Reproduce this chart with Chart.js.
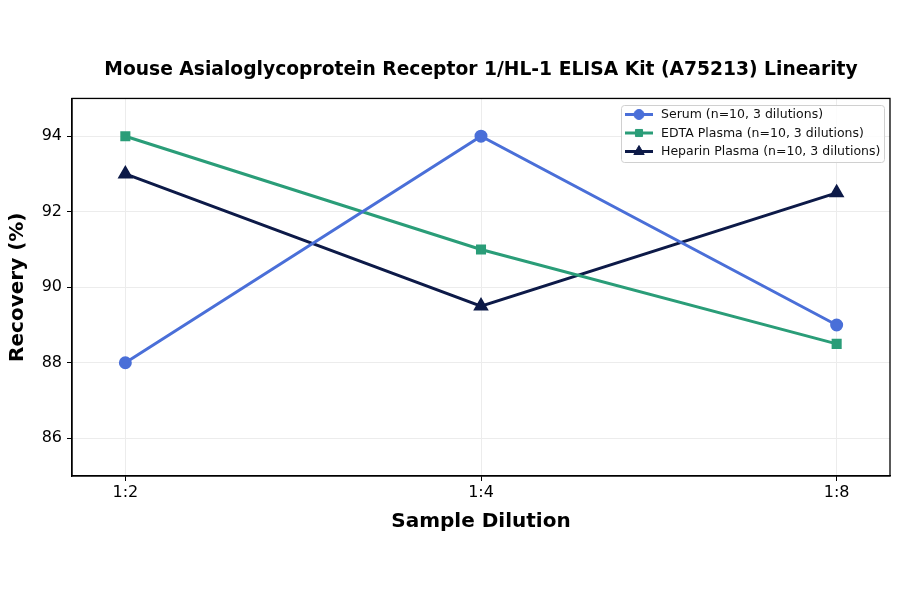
<!DOCTYPE html>
<html>
<head>
<meta charset="utf-8">
<script src="https://cdn.jsdelivr.net/npm/chart.js@4.4.1/dist/chart.umd.min.js"></script>
<style>
  html, body { margin: 0; padding: 0; background: #fff; }
  #wrap { width: 900px; height: 594px; }
</style>
</head>
<body>
<div id="wrap"><canvas id="chart" width="900" height="594"></canvas></div>
<script>
const dilutions = ["1:2", "1:4", "1:8"];
const yTicks = [86, 88, 90, 92, 94];
const serum = [88, 94, 89];
const edta = [94, 91, 88.5];
const heparin = [93, 89.5, 92.5];

const toPoints = (vals) => vals.map((v, i) => ({ x: i, y: v }));

// frame on top/right + legend box inside plot area
const framePlugin = {
    id: "frame",
    afterDatasetsDraw(chart) {
        const { ctx, chartArea: a } = chart;
        ctx.save();
        ctx.strokeStyle = "#000";
        ctx.lineWidth = 1.3;
        ctx.strokeRect(a.left, a.top, a.right - a.left, a.bottom - a.top);

        // legend
        const x0 = 621, y0 = 105, w = 263, h = 57;
        ctx.fillStyle = "rgba(255,255,255,0.85)";
        ctx.strokeStyle = "#d0d0d0";
        ctx.lineWidth = 1;
        ctx.beginPath();
        ctx.roundRect(x0 + 0.5, y0 + 0.5, w, h, 3);
        ctx.fill();
        ctx.stroke();
        ctx.font = "12.5px 'DejaVu Sans'";
        ctx.textBaseline = "middle";
        chart.data.datasets.forEach((ds, i) => {
            const y = 114.5 + i * 18.5;
            ctx.strokeStyle = ds.borderColor;
            ctx.fillStyle = ds.borderColor;
            ctx.lineWidth = 3;
            ctx.beginPath();
            ctx.moveTo(625, y);
            ctx.lineTo(653, y);
            ctx.stroke();
            ctx.lineWidth = 1;
            Chart.helpers.drawPoint(ctx, {
                pointStyle: ds.pointStyle,
                radius: ds.pointRadius,
                borderWidth: 1
            }, 639, y);
            ctx.fillStyle = "#111";
            ctx.fillText(ds.label, 661, y + 0.5);
        });
        ctx.restore();
    }
};

const makeDataset = (label, vals, color, style, r) => ({
    label: label,
    data: toPoints(vals),
    borderColor: color,
    backgroundColor: color,
    pointBackgroundColor: color,
    pointBorderColor: color,
    pointStyle: style,
    pointRadius: r,
    pointHoverRadius: r,
    borderWidth: 3,
    tension: 0
});

const config = {
    type: "line",
    data: {
        datasets: [
            makeDataset("Serum (n=10, 3 dilutions)", serum, "#4a6fd8", "circle", 5),
            makeDataset("EDTA Plasma (n=10, 3 dilutions)", edta, "#2a9d78", "rect", 5),
            makeDataset("Heparin Plasma (n=10, 3 dilutions)", heparin, "#0d1a48", "triangle", 6)
        ]
    },
    options: {
        responsive: false,
        animation: false,
        layout: { padding: { left: 0, right: 10, top: 0, bottom: 0 } },
        plugins: {
            legend: { display: false },
            tooltip: { enabled: false },
            title: {
                display: true,
                fullSize: false,
                text: "Mouse Asialoglycoprotein Receptor 1/HL-1 ELISA Kit (A75213) Linearity",
                color: "#000",
                font: { family: "'DejaVu Sans'", size: 18.7, weight: "bold" },
                padding: { top: 59, bottom: 17 }
            }
        },
        scales: {
            x: {
                type: "linear",
                min: -0.15,
                max: 2.15,
                afterBuildTicks: (scale) => {
                    scale.ticks = dilutions.map((d, i) => ({ value: i }));
                },
                afterFit: (scale) => { scale.height = 118; },
                ticks: {
                    callback: (v) => dilutions[v],
                    color: "#000",
                    font: { family: "'DejaVu Sans'", size: 16 },
                    padding: 2,
                    maxRotation: 0
                },
                grid: { color: "#ececec", tickColor: "#000", tickLength: 5, lineWidth: 1 },
                border: { color: "#000", width: 1.3 },
                title: {
                    display: true,
                    text: "Sample Dilution",
                    color: "#000",
                    font: { family: "'DejaVu Sans'", size: 20, weight: "bold" },
                    padding: { top: 0, bottom: 60 }
                }
            },
            y: {
                min: 85,
                max: 95,
                afterBuildTicks: (scale) => {
                    scale.ticks = yTicks.map((v) => ({ value: v }));
                },
                afterFit: (scale) => { scale.width = 72; },
                ticks: {
                    color: "#000",
                    font: { family: "'DejaVu Sans'", size: 16 },
                    padding: 5
                },
                grid: { color: "#ececec", tickColor: "#000", tickLength: 5, lineWidth: 1 },
                border: { color: "#000", width: 1.3 },
                title: {
                    display: true,
                    text: "Recovery (%)",
                    color: "#000",
                    font: { family: "'DejaVu Sans'", size: 20, weight: "bold" },
                    padding: { top: 6, bottom: 0 }
                }
            }
        }
    },
    plugins: [framePlugin]
};

new Chart(document.getElementById("chart"), config);
</script>
</body>
</html>
